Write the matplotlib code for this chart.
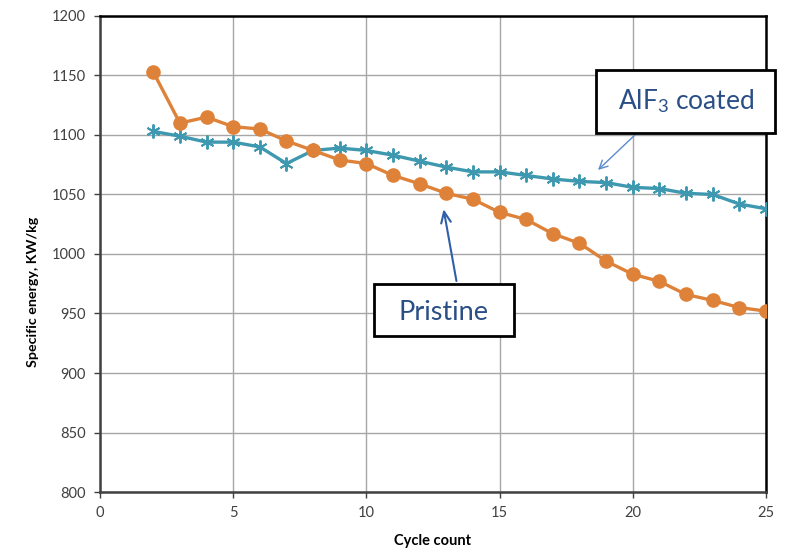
import matplotlib
matplotlib.use("Agg")
import matplotlib.pyplot as plt
from matplotlib.patches import Rectangle

cycles = list(range(2, 26))
pristine = [1153, 1110, 1115, 1107, 1105, 1095, 1087, 1079, 1076, 1066, 1059, 1051,
            1046, 1035, 1029, 1017, 1009, 994, 983, 977, 966, 961, 955, 952]
alf3 = [1103, 1099, 1094, 1094, 1090, 1076, 1087, 1089, 1087, 1083, 1078, 1073,
        1069, 1069, 1066, 1063, 1061, 1060, 1056, 1055, 1051, 1050, 1042, 1038]
x_ticks = [0, 5, 10, 15, 20, 25]
y_ticks = [800, 850, 900, 950, 1000, 1050, 1100, 1150, 1200]

plt.rcParams['font.family'] = ['Lato', 'DejaVu Sans']
plt.rcParams['mathtext.fontset'] = 'custom'
plt.rcParams['mathtext.rm'] = 'Lato'
plt.rcParams['mathtext.it'] = 'Lato:italic'
plt.rcParams['mathtext.bf'] = 'Lato:bold'

fig = plt.figure(figsize=(7.89, 5.55), dpi=100)
ax = fig.add_axes([0.1267, 0.1135, 0.9708 - 0.1267, 0.9712 - 0.1135])

orange = '#DF8239'
teal = '#3E99B0'

ax.plot(cycles, pristine, color=orange, lw=2.4, marker='o', ms=9.5,
        markeredgecolor=orange, zorder=4)
ax.plot(cycles, alf3, color=teal, lw=2.4, marker=(6, 2, 0), ms=10,
        markeredgewidth=1.4, markeredgecolor=teal, zorder=3)

ax.set_xlim(0, 25)
ax.set_ylim(800, 1200)
ax.set_xticks(x_ticks)
ax.set_yticks(y_ticks)
ax.grid(True, color='#A6A6A6', lw=1)
ax.set_axisbelow(True)
ax.tick_params(axis='both', labelsize=10.5, colors='#404040', length=4, width=1,
               direction='out', pad=6)
for s in ['top', 'right']:
    ax.spines[s].set_color('black')
    ax.spines[s].set_linewidth(1.8)
for s in ['left', 'bottom']:
    ax.spines[s].set_color('#404040')
    ax.spines[s].set_linewidth(1.8)

ax.set_xlabel('Cycle count', fontsize=10.5, fontweight='bold')
ax.set_ylabel('Specific energy, KW/kg', fontsize=10.3, fontweight='bold')
ax.xaxis.set_label_coords(0.5, -0.088)
ax.yaxis.set_label_coords(-0.091, 0.42)

textc = '#2A4E86'
# Pristine box
ax.add_patch(Rectangle((10.29, 931), 15.54 - 10.29, 975 - 931, facecolor='white',
                       edgecolor='black', lw=2, zorder=6, clip_on=False))
ax.text(12.9, 951, 'Pristine', fontsize=19.5, color=textc, ha='center', va='center', zorder=7)
ax.annotate('', xy=(12.88, 1040), xytext=(13.4, 975),
            arrowprops=dict(arrowstyle='->,head_length=0.8,head_width=0.35', color='#2F5FA8', lw=1.5),
            zorder=5)

# AlF3 box
ax.add_patch(Rectangle((18.62, 1101.7), 25.34 - 18.62, 1154.6 - 1101.7, facecolor='white',
                       edgecolor='black', lw=2, zorder=6, clip_on=False))
ax.text(22.0, 1128.6, r'AlF$_3$ coated', fontsize=19, color=textc, ha='center', va='center', zorder=7)
ax.annotate('', xy=(18.62, 1069), xytext=(20.16, 1101.7),
            arrowprops=dict(arrowstyle='->,head_length=0.6,head_width=0.3', color='#5B8BD0', lw=1.0),
            zorder=5)

fig.savefig('out.png', dpi=100)
